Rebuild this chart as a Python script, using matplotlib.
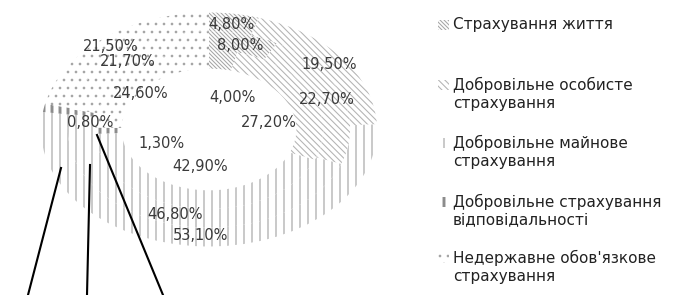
import numpy as np
import matplotlib
matplotlib.use("Agg")
import matplotlib.pyplot as plt
from matplotlib.patches import Rectangle
from matplotlib.lines import Line2D

# ---------------- data ----------------
categories = [
    "Страхування життя",
    "Добровільне особисте\nстрахування",
    "Добровільне майнове\nстрахування",
    "Добровільне страхування\nвідповідальності",
    "Недержавне обов'язкове\nстрахування",
]
outer_ring = [4.80, 19.50, 53.10, 1.10, 21.50]
middle_ring = [8.00, 22.70, 46.80, 0.80, 21.70]
inner_ring = [4.00, 27.20, 42.90, 1.30, 24.60]

# ---------------- styles ----------------
W, H, DPI = 673, 295, 96          # dpi 96 -> hatch tile 96 px
PX = 72.0 / DPI                   # points per pixel
BS = chr(92)                      # backslash hatch character
hatches = [BS * 8, BS * 5, "||", "||", ".."]
hatch_colors = ["#a6a6a6", "#b4b4b4", "#b0b0b0", "#8c8c8c", "#a4a4a4"]
hatch_lws = [0.8, 0.8, 1.0, 2.2, 0.8]
label_color = "#3a3a3a"

plt.rcParams["hatch.linewidth"] = 0.8
plt.rcParams["font.family"] = ["DejaVu Sans"]

fig = plt.figure(figsize=(W / DPI, H / DPI), dpi=DPI)

# pie axes in pixel geometry (elliptical doughnut, as in reference)
cx_px, cy_px, rx_px, ry_px = 209, 129.5, 168, 117
ax = fig.add_axes([(cx_px - rx_px) / W, (H - cy_px - ry_px) / H,
                   2 * rx_px / W, 2 * ry_px / H])

hole = 0.52
ring_w = (1 - hole) / 3
rings = [outer_ring, middle_ring, inner_ring]
label_r = [0.905, 0.745, 0.34]
# per-label nudges in pixels (dx right, dy down)
nudges = [
    [(0, 0), (0, 0), (0, 0), (6, -7), (-3, 0)],
    [(0, 0), (0, 0), (-2, 1), (0, 8), (-2, 0)],
    [(16, 7), (9, 11), (1, -2), (10, 13), (-28, -8)],
]
label_r_override = {(0, 3): 1.12, (1, 3): 0.72}

for ri, vals in enumerate(rings):
    radius = 1 - ri * ring_w
    wedges, _ = ax.pie(vals, radius=radius, startangle=90, counterclock=False,
                       wedgeprops=dict(width=ring_w, linewidth=0))
    for ci, w in enumerate(wedges):
        w.set_facecolor("white")
        w.set_edgecolor(hatch_colors[ci])
        w.set_linewidth(0)
        w.set_hatch(hatches[ci])
        if hasattr(w, "set_hatch_linewidth"):
            w.set_hatch_linewidth(hatch_lws[ci])
    total = sum(vals)
    cum = np.cumsum([0] + vals[:-1])
    for ci, v in enumerate(vals):
        mid = (cum[ci] + v / 2) / total * 360.0
        th = np.deg2rad(90 - mid)
        r = label_r_override.get((ri, ci), label_r[ri])
        x, y = r * np.cos(th), r * np.sin(th)
        dx, dy = nudges[ri][ci]
        ax.annotate(f"{v:.2f}%".replace(".", ","), (x, y),
                    xytext=(dx, -dy), textcoords="offset pixels",
                    ha="center", va="center", fontsize=10.5 * 100 / 96,
                    color=label_color)

ax.set_aspect("auto")
ax.set_xlim(-1, 1)
ax.set_ylim(-1, 1)
ax.axis("off")

# leader lines toward cut-off annotations below the chart
leader_lines = [((61, 168), (28, 295)), ((90, 165), (87, 295)), ((97, 135), (163, 295))]
for (x0, y0), (x1, y1) in leader_lines:
    fig.add_artist(Line2D([x0 / W, x1 / W], [1 - y0 / H, 1 - y1 / H],
                          transform=fig.transFigure, color="black", lw=2.1 * PX))

# legend (manual, to mimic layout)
leg_y = [25, 85, 143, 202, 258]
for ci, lab in enumerate(categories):
    yc = leg_y[ci]
    sw = Rectangle((438 / W, 1 - (yc + 5) / H), 11 / W, 10 / H,
                   transform=fig.transFigure, facecolor="white",
                   edgecolor=hatch_colors[ci], linewidth=0, hatch=hatches[ci])
    if hasattr(sw, "set_hatch_linewidth"):
        sw.set_hatch_linewidth(hatch_lws[ci])
    fig.add_artist(sw)
    fig.text(453 / W, 1 - (yc - 8) / H, lab, ha="left", va="top",
             fontsize=11 * 100 / 96, color="#222222", linespacing=1.2)

fig.savefig("out.png", dpi=DPI)
